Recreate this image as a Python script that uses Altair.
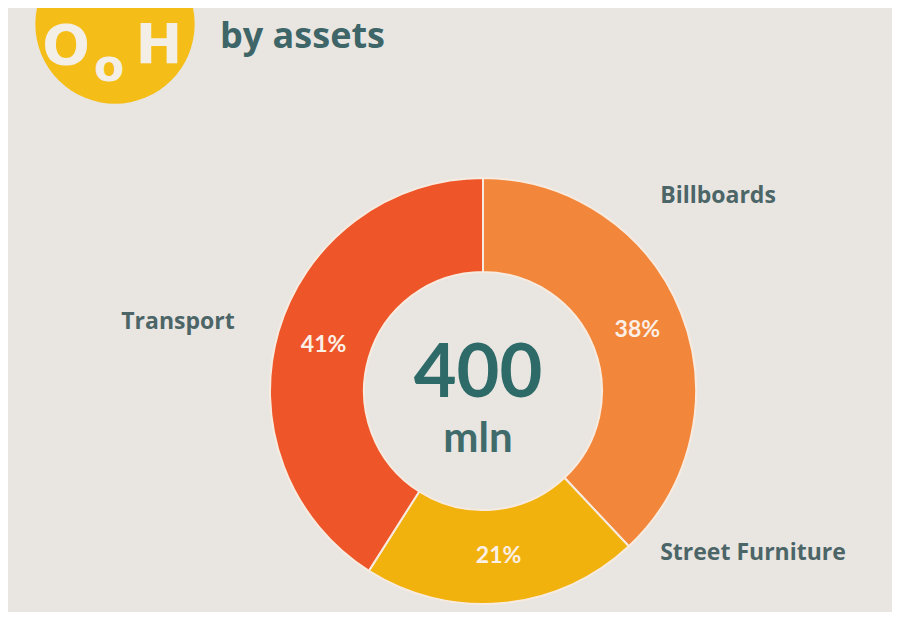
import altair as alt
import pandas as pd

# ---- data ----
categories = ["Billboards", "Street Furniture", "Transport"]
shares = [38, 21, 41]
slice_order = [1, 2, 3]
slice_colors = ["#F2863A", "#F1B20E", "#EE5528"]

title_text = "by assets"
logo_letters = ["O", "o", "H"]
center_value = "400"
center_unit = "mln"

FONT = "Lato"
LABEL_FONT = "Open Sans"
LOGO_FONT = "DejaVu Sans"
TEXT_COL = "#4C6567"
W, H = 884, 604
CX, CY = 475, 383

df = pd.DataFrame({
    "category": categories,
    "share": shares,
    "order": slice_order,
    "label": [f"{s}%" for s in shares],
})

theta = alt.Theta("share:Q", stack=True)
color = alt.Color("category:N", scale=alt.Scale(domain=categories, range=slice_colors), legend=None)
order = alt.Order("order:Q")

arcs = alt.Chart(df).mark_arc(
    innerRadius=119, outerRadius=213, stroke="#F7EBE0", strokeWidth=2
).encode(theta=theta, color=color, order=order, x=alt.value(CX), y=alt.value(CY))

pct = alt.Chart(df).mark_text(
    radius=166, font=FONT, fontSize=23, fontWeight="bold", color="#FBEFE6"
).encode(theta=theta, order=order, text="label:N", x=alt.value(CX), y=alt.value(CY))


def note(text, x, y, size, col=TEXT_COL, weight="bold", align="center", baseline="middle", font=FONT):
    return alt.Chart(pd.DataFrame({"t": [text]})).mark_text(
        font=font, fontSize=size, fontWeight=weight, color=col, align=align, baseline=baseline
    ).encode(text="t:N", x=alt.value(x), y=alt.value(y))


# category labels beside the ring
cat_pos = {"Billboards": (710, 188), "Street Furniture": (745, 545), "Transport": (170, 314)}
cat_labels = [note(c, *cat_pos[c], 23, font=LABEL_FONT) for c in categories]

# centre total
c1 = note(center_value, CX - 5, 389, 74, col="#2E6A68", baseline="alphabetic")
c2 = note(center_unit, CX - 5, 444, 42, col="#3F6B6B", baseline="alphabetic")

# logo + title
logo = alt.Chart(pd.DataFrame({"k": [1]})).mark_point(
    filled=True, size=25400, color="#F5BD17", opacity=1
).encode(x=alt.value(107), y=alt.value(16))
l1 = note(logo_letters[0], 58, 56, 56, col="#F3EEE6", baseline="alphabetic", font=LOGO_FONT)
l2 = note(logo_letters[1], 101, 73, 44, col="#F3EEE6", baseline="alphabetic", font=LOGO_FONT)
l3 = note(logo_letters[2], 151, 55, 56, col="#F3EEE6", baseline="alphabetic", font=LOGO_FONT)
title = note(title_text, 212, 40, 36, col="#3E6567", align="left", baseline="alphabetic", font=LABEL_FONT)

chart = alt.layer(
    logo, l1, l2, l3, title, arcs, pct, c1, c2, *cat_labels
).properties(
    width=W, height=H, padding=0, autosize=alt.AutoSizeParams(type="none"),
    background="#E9E6E2",
).configure_view(stroke=None)

chart.save("out.html", embed_options={"renderer": "svg", "actions": False})
